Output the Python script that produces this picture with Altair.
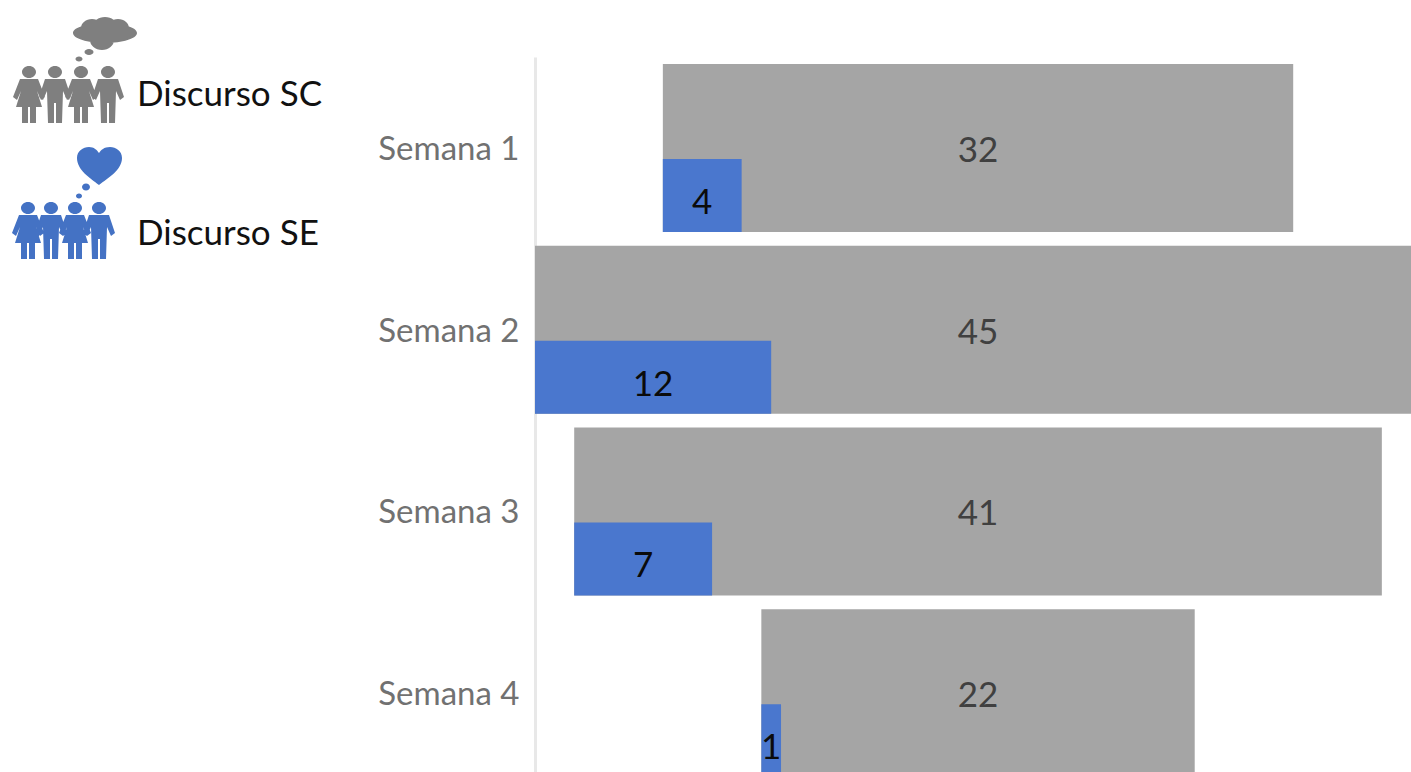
import altair as alt
import pandas as pd

# Weekly counts of each discourse type
weeks = ["Semana 1", "Semana 2", "Semana 3", "Semana 4"]
discurso_sc = [32, 45, 41, 22]
discurso_se = [4, 12, 7, 1]
legend_labels = ["Discurso SC", "Discurso SE"]

GRAY_BAR = "#A5A5A5"
BLUE_BAR = "#4A77CE"
GRAY_ICON = "#7F7F7F"
BLUE_ICON = "#4472C4"
FONT = "Lato"

# Outer padding that leaves room for the key and the week labels
PAD_LEFT, PAD_TOP = 535, 57


def circle(cx, cy, rx, ry=None):
    ry = rx if ry is None else ry
    return (f"M{cx - rx} {cy}A{rx} {ry} 0 1 1 {cx + rx} {cy}"
            f"A{rx} {ry} 0 1 1 {cx - rx} {cy}Z")


def person(cx, top, female):
    """Pictogram of one figure, 57 units tall, standing under `top`."""
    y = lambda v: top + v
    head = circle(cx, y(6), 7, 6)
    if female:
        body = (f"M{cx - 9} {y(13)}L{cx + 9} {y(13)}L{cx + 16} {y(31)}L{cx + 12} {y(34)}"
                f"L{cx + 8} {y(25)}L{cx + 13} {y(41)}L{cx + 7} {y(41)}L{cx + 7} {y(57)}"
                f"L{cx + 1} {y(57)}L{cx + 1} {y(41)}L{cx - 1} {y(41)}L{cx - 1} {y(57)}"
                f"L{cx - 7} {y(57)}L{cx - 7} {y(41)}L{cx - 13} {y(41)}L{cx - 8} {y(25)}"
                f"L{cx - 12} {y(34)}L{cx - 16} {y(31)}Z")
    else:
        body = (f"M{cx - 10} {y(13)}L{cx + 10} {y(13)}L{cx + 16} {y(31)}L{cx + 12} {y(34)}"
                f"L{cx + 8} {y(25)}L{cx + 7} {y(57)}L{cx + 1} {y(57)}L{cx + 1} {y(37)}"
                f"L{cx - 1} {y(37)}L{cx - 1} {y(57)}L{cx - 7} {y(57)}L{cx - 8} {y(25)}"
                f"L{cx - 12} {y(34)}L{cx - 16} {y(31)}Z")
    return head + body


def group(centres, top):
    return "".join(person(c, top, i % 2 == 0) for i, c in enumerate(centres))


# Crowd with a thought cloud, drawn in page units
cloud_icon = (
    group([29, 55, 81, 108], 66)
    + circle(105, 33, 32, 10) + circle(92, 28, 11, 9) + circle(105, 26, 12, 9)
    + circle(118, 28, 11, 9) + circle(102, 40, 12, 10)
    + circle(89, 52, 4.5, 3) + circle(79, 59, 3.5, 2.5)
)

# Crowd with a thought heart, drawn in page units
heart_icon = (
    group([28, 51, 75, 99], 202)
    + "M99 185C90 178 77 170 77 158C77 151 83 147 89 147C94 147 97 150 99 153"
      "C101 150 104 147 110 147C116 147 122 151 122 158C122 170 108 178 99 185Z"
    + circle(86, 187, 4, 3.5) + circle(79, 196, 3, 2.5)
)

df = pd.DataFrame({"semana": weeks, "sc": discurso_sc, "se": discurso_se})
week_y = alt.Y(
    "semana:N",
    sort=weeks,
    scale=alt.Scale(domain=weeks, range=[0, 727]),
    axis=alt.Axis(
        title=None,
        ticks=False,
        grid=False,
        labelFont=FONT,
        labelFontSize=33,
        labelColor="#717171",
        labelPadding=16,
        labelOffset=2,
        domainColor="#E8E8E8",
        domainWidth=3,
    ),
)
x_scale = alt.Scale(domain=[-22.49, 21.98], nice=False, zero=False)
x_axis = alt.X("left:Q", scale=x_scale, axis=None)

base = alt.Chart(df).transform_calculate(
    left="-datum.sc / 2",
    right="datum.sc / 2",
    se_right="-datum.sc / 2 + datum.se",
    se_mid="-datum.sc / 2 + datum.se / 2",
    centre="0",
)

gray_bars = base.mark_bar(height=168, color=GRAY_BAR, clip=True).encode(
    x=x_axis, x2="right:Q", y=week_y
)
blue_bars = base.mark_bar(height=73, yOffset=47.5, color=BLUE_BAR, clip=True).encode(
    x=x_axis, x2="se_right:Q", y=week_y
)
gray_labels = base.mark_text(
    font=FONT, fontSize=35, color="#404040", baseline="middle", yOffset=3
).encode(
    x=alt.X("centre:Q", scale=x_scale, axis=None),
    y=week_y,
    text="sc:Q",
)
blue_labels = base.mark_text(
    font=FONT, fontSize=35, color="#0B0B0B", baseline="middle", yOffset=55
).encode(
    x=alt.X("se_mid:Q", scale=x_scale, axis=None),
    y=week_y,
    text="se:Q",
)


def icon(path, colour):
    return alt.Chart(pd.DataFrame({"k": [0]})).mark_point(
        shape=path, size=4, filled=True, opacity=1, color=colour, strokeWidth=0
    ).encode(x=alt.value(-PAD_LEFT), y=alt.value(-PAD_TOP))


def key_label(text, page_y):
    return alt.Chart(pd.DataFrame({"t": [text]})).mark_text(
        font=FONT, fontSize=35, color="#111111", align="left", baseline="middle"
    ).encode(x=alt.value(137 - PAD_LEFT), y=alt.value(page_y - PAD_TOP), text="t:N")


chart = alt.layer(
    gray_bars,
    blue_bars,
    gray_labels,
    blue_labels,
    icon(cloud_icon, GRAY_ICON),
    icon(heart_icon, BLUE_ICON),
    key_label(legend_labels[0], 95),
    key_label(legend_labels[1], 234),
).properties(
    width=876,
    height=715,
    autosize="none",
    padding={"left": PAD_LEFT, "top": PAD_TOP, "right": 0, "bottom": 0},
    background="white",
).configure_view(stroke=None)

chart.save("out.html", embed_options={"renderer": "svg", "actions": False})
